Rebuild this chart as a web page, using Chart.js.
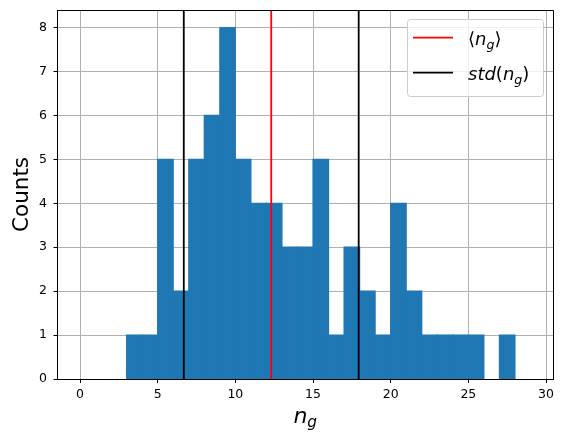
<!DOCTYPE html>
<html>
<head>
<meta charset="utf-8">
<script src="https://cdn.jsdelivr.net/npm/chart.js@4.4.0/dist/chart.umd.min.js"></script>
<style>
html, body { margin: 0; padding: 0; background: #fff; }
</style>
</head>
<body>
<canvas id="histChart" width="565" height="442"></canvas>
<script>
// histogram bins (left edges, width 1) and counts per bin
var binStarts = [0,1,2,3,4,5,6,7,8,9,10,11,12,13,14,15,16,17,18,19,20,21,22,23,24,25,26,27,28];
var counts    = [0,0,0,1,1,5,2,5,6,8,5,4,4,3,3,5,1,3,2,1,4,2,1,1,1,1,0,1,0];

// mean and mean +/- std of n_g
var meanVal = 12.31;
var stdLines = [6.68, 17.94];

var xTicks = [0, 5, 10, 15, 20, 25, 30];
var yTicks = [0, 1, 2, 3, 4, 5, 6, 7, 8];

var FONT = "'DejaVu Sans', sans-serif";
Chart.defaults.color = '#000';

function vline(x, color){
	return {
		type: 'line',
		data: [{x: x, y: 0}, {x: x, y: 8.4}],
		borderColor: color,
		borderWidth: 1.8,
		pointRadius: 0,
		fill: false,
		order: 1
	};
}

// draw a small math-like string: parts of {t, it, sub}
function drawMath(ctx, parts, x, y, size, align){
	var subSize = size * 0.7;
	var subShift = size * 0.2;
	var total = 0, i, p;
	for(i = 0; i < parts.length; i++){
		p = parts[i];
		ctx.font = (p.it ? 'italic ' : '') + (p.sub ? subSize : size) + 'px ' + FONT;
		p.w = ctx.measureText(p.t).width;
		total += p.w;
	}
	var cx = align == 'center' ? x - total / 2 : x;
	ctx.textAlign = 'left';
	ctx.textBaseline = 'alphabetic';
	for(i = 0; i < parts.length; i++){
		p = parts[i];
		ctx.font = (p.it ? 'italic ' : '') + (p.sub ? subSize : size) + 'px ' + FONT;
		ctx.fillText(p.t, cx, p.sub ? y + subShift : y);
		cx += p.w;
	}
}

var decorations = {
	id: 'decorations',
	afterDraw: function(chart){
		var ctx = chart.ctx;
		var a = chart.chartArea;
		ctx.save();
		// top and right spines
		ctx.strokeStyle = '#000';
		ctx.lineWidth = 1;
		ctx.beginPath();
		ctx.moveTo(a.left, a.top + 0.5);
		ctx.lineTo(a.right + 0.5, a.top + 0.5);
		ctx.lineTo(a.right + 0.5, a.bottom);
		ctx.stroke();

		// axis titles
		ctx.fillStyle = '#000';
		ctx.save();
		ctx.translate(27.5, (a.top + a.bottom) / 2);
		ctx.rotate(-Math.PI / 2);
		ctx.font = '21.5px ' + FONT;
		ctx.textAlign = 'center';
		ctx.textBaseline = 'alphabetic';
		ctx.fillText('Counts', 0, 0);
		ctx.restore();
		drawMath(ctx, [{t: 'n', it: true}, {t: 'g', it: true, sub: true}],
			(a.left + a.right) / 2, a.bottom + 44, 22, 'center');

		// legend
		var bw = 136, bh = 77;
		var bx = a.right - 10 - bw, by = a.top + 9;
		ctx.beginPath();
		ctx.roundRect(bx + 0.5, by + 0.5, bw, bh, 3);
		ctx.fillStyle = 'rgba(255,255,255,0.8)';
		ctx.fill();
		ctx.strokeStyle = '#cccccc';
		ctx.lineWidth = 1;
		ctx.stroke();

		var entries = [
			{color: 'red', parts: [{t: '\u27E8'}, {t: 'n', it: true}, {t: 'g', it: true, sub: true}, {t: '\u27E9'}]},
			{color: 'black', parts: [{t: 'std', it: true}, {t: '('}, {t: 'n', it: true}, {t: 'g', it: true, sub: true}, {t: ')'}]}
		];
		for(var e = 0; e < entries.length; e++){
			var ly = by + 18.7 + e * 35;
			ctx.strokeStyle = entries[e].color;
			ctx.lineWidth = 1.8;
			ctx.beginPath();
			ctx.moveTo(bx + 6, ly);
			ctx.lineTo(bx + 46, ly);
			ctx.stroke();
			ctx.fillStyle = '#000';
			drawMath(ctx, entries[e].parts, bx + 61, ly + 7.3, 18, 'left');
		}
		ctx.restore();
	}
};

var barData = [];
for(var i = 0; i < binStarts.length; i++){
	barData.push({x: binStarts[i] + 0.5, y: counts[i]});
}

var ctx = document.getElementById('histChart').getContext('2d');
var histChart = new Chart(ctx, {
	type: 'bar',
	data: {
		datasets: [
			{
				type: 'bar',
				data: barData,
				backgroundColor: function(c){ return c.raw && c.raw.y > 0 ? '#1f77b4' : 'rgba(0,0,0,0)'; },
				borderWidth: 0,
				inflateAmount: 0.6,
				barPercentage: 1,
				categoryPercentage: 1,
				order: 2
			},
			vline(meanVal, 'red'),
			vline(stdLines[0], 'black'),
			vline(stdLines[1], 'black')
		]
	},
	options: {
		responsive: false,
		animation: false,
		devicePixelRatio: 1,
		layout: {padding: {top: 10, right: 12, left: 0, bottom: 0}},
		plugins: {legend: {display: false}, tooltip: {enabled: false}},
		scales: {
			x: {
				type: 'linear',
				min: -1.45,
				max: 30.45,
				offset: false,
				z: 1,
				afterBuildTicks: function(s){ s.ticks = xTicks.map(function(v){ return {value: v}; }); },
				afterFit: function(s){ s.height = 63; s.paddingLeft = 0; s.paddingRight = 0; },
				grid: {offset: false, color: '#b0b0b0', lineWidth: 1, tickColor: '#000', tickLength: 4, tickWidth: 1},
				border: {color: '#000', width: 1},
				ticks: {font: {family: FONT, size: 12.5}, color: '#000', padding: 4, maxRotation: 0, autoSkip: false}
			},
			y: {
				type: 'linear',
				min: 0,
				max: 8.4,
				z: 1,
				afterBuildTicks: function(s){ s.ticks = yTicks.map(function(v){ return {value: v}; }); },
				afterFit: function(s){ s.width = 57.5; s.paddingTop = 0; s.paddingBottom = 0; },
				grid: {color: '#b0b0b0', lineWidth: 1, tickColor: '#000', tickLength: 4, tickWidth: 1},
				border: {color: '#000', width: 1},
				ticks: {font: {family: FONT, size: 12.5}, color: '#000', padding: 6.5, autoSkip: false}
			}
		}
	},
	plugins: [decorations]
});
</script>
</body>
</html>
